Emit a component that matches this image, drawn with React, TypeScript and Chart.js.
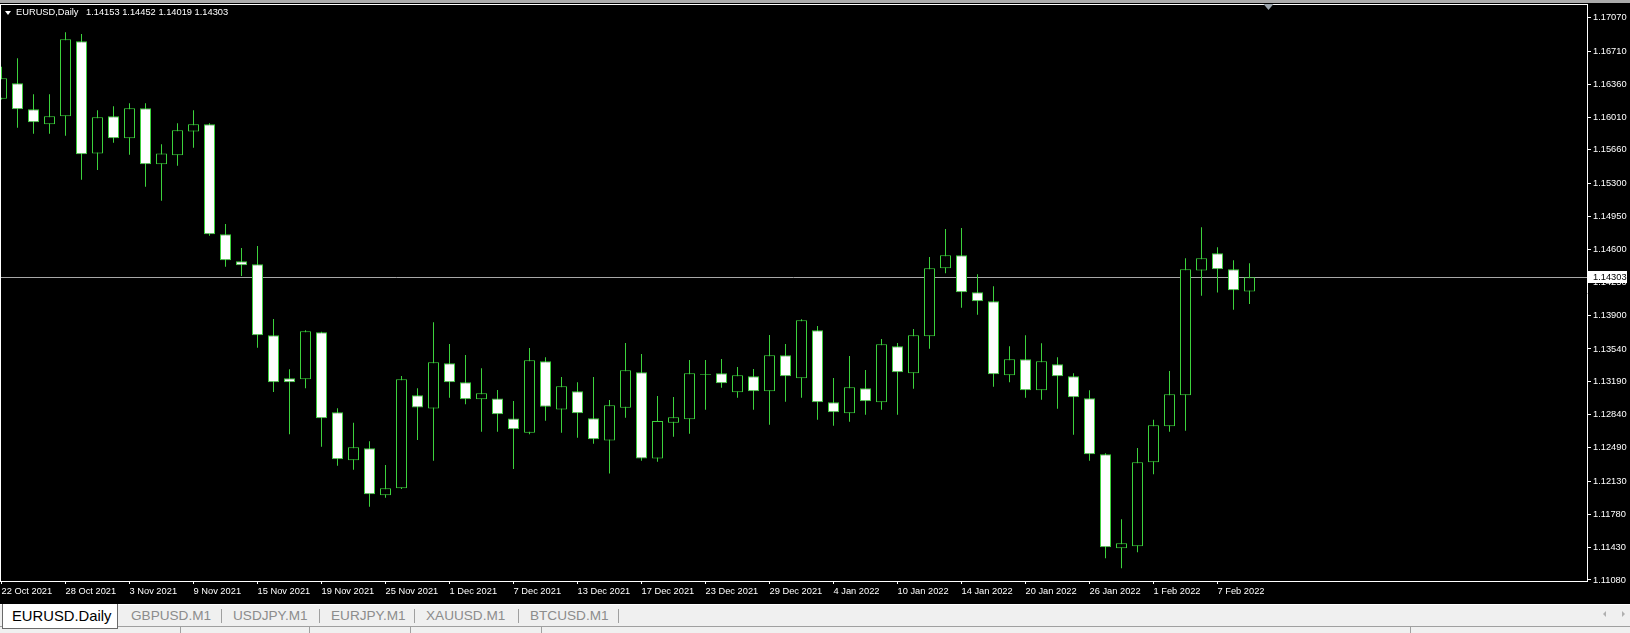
import React, { useEffect, useRef } from 'react';
import { Chart, registerables } from 'chart.js';

Chart.register(...registerables);

// ---------- data ----------
const dates = [
  '22 Oct 2021', '25 Oct 2021', '26 Oct 2021', '27 Oct 2021', '28 Oct 2021', '29 Oct 2021',
  '1 Nov 2021', '2 Nov 2021', '3 Nov 2021', '4 Nov 2021', '5 Nov 2021', '8 Nov 2021', '9 Nov 2021',
  '10 Nov 2021', '11 Nov 2021', '12 Nov 2021', '15 Nov 2021', '16 Nov 2021', '17 Nov 2021',
  '18 Nov 2021', '19 Nov 2021', '22 Nov 2021', '23 Nov 2021', '24 Nov 2021', '25 Nov 2021',
  '26 Nov 2021', '29 Nov 2021', '30 Nov 2021',
  '1 Dec 2021', '2 Dec 2021', '3 Dec 2021', '6 Dec 2021', '7 Dec 2021', '8 Dec 2021', '9 Dec 2021',
  '10 Dec 2021', '13 Dec 2021', '14 Dec 2021', '15 Dec 2021', '16 Dec 2021', '17 Dec 2021',
  '20 Dec 2021', '21 Dec 2021', '22 Dec 2021', '23 Dec 2021', '24 Dec 2021', '27 Dec 2021',
  '28 Dec 2021', '29 Dec 2021', '30 Dec 2021', '31 Dec 2021',
  '3 Jan 2022', '4 Jan 2022', '5 Jan 2022', '6 Jan 2022', '7 Jan 2022', '10 Jan 2022', '11 Jan 2022',
  '12 Jan 2022', '13 Jan 2022', '14 Jan 2022', '17 Jan 2022', '18 Jan 2022', '19 Jan 2022',
  '20 Jan 2022', '21 Jan 2022', '24 Jan 2022', '25 Jan 2022', '26 Jan 2022', '27 Jan 2022',
  '28 Jan 2022', '31 Jan 2022',
  '1 Feb 2022', '2 Feb 2022', '3 Feb 2022', '4 Feb 2022', '7 Feb 2022', '8 Feb 2022', '9 Feb 2022',
];

const opens = [
  1.16205, 1.16369, 1.16092, 1.15932, 1.16018, 1.16816, 1.15621, 1.16018, 1.15783, 1.16103,
  1.15506, 1.15602, 1.15856, 1.15932, 1.14761, 1.14473, 1.14441, 1.13685, 1.13227, 1.13217,
  1.13717, 1.12865, 1.12354, 1.12482, 1.11981, 1.12056, 1.13046, 1.12906, 1.13387, 1.13185,
  1.13004, 1.13012, 1.12799, 1.12648, 1.13408, 1.12895, 1.13089, 1.12801, 1.12565, 1.12914,
  1.13291, 1.12373, 1.12754, 1.12791, 1.13264, 1.13281, 1.13078, 1.13249, 1.13089, 1.13472,
  1.13227, 1.13739, 1.12972, 1.12855, 1.13121, 1.12972, 1.13568, 1.13281, 1.13675, 1.14399,
  1.14537, 1.14143, 1.14047, 1.13259, 1.13430, 1.13099, 1.13376, 1.13249, 1.13014, 1.12418,
  1.11417, 1.11438, 1.12333, 1.12716, 1.13046, 1.14375, 1.14559, 1.14388, 1.14153,
];

const highs = [
  1.16546, 1.16635, 1.16252, 1.16252, 1.16912, 1.16894, 1.16082, 1.16124, 1.16156, 1.16156,
  1.15720, 1.15943, 1.16083, 1.15943, 1.14871, 1.14615, 1.14636, 1.13859, 1.13323, 1.13739,
  1.13722, 1.12908, 1.12754, 1.12556, 1.12304, 1.13252, 1.13121, 1.13824, 1.13593, 1.13475,
  1.13334, 1.13103, 1.12986, 1.13550, 1.13451, 1.13241, 1.13186, 1.13241, 1.12996, 1.13603,
  1.13486, 1.13039, 1.13028, 1.13422, 1.13422, 1.13433, 1.13348, 1.13326, 1.13688, 1.13593,
  1.13856, 1.13784, 1.13230, 1.13465, 1.13316, 1.13646, 1.13603, 1.13752, 1.14519, 1.14817,
  1.14828, 1.14335, 1.14207, 1.13568, 1.13685, 1.13600, 1.13451, 1.13281, 1.13099, 1.12429,
  1.11726, 1.12485, 1.12786, 1.13305, 1.14505, 1.14837, 1.14624, 1.14484, 1.14452,
];

const lows = [
  1.16197, 1.15896, 1.15832, 1.15832, 1.15811, 1.15342, 1.15446, 1.15736, 1.15608, 1.15268,
  1.15119, 1.15491, 1.15683, 1.14746, 1.14416, 1.14317, 1.13553, 1.13081, 1.12631, 1.13121,
  1.12499, 1.12297, 1.12254, 1.11860, 1.11956, 1.12048, 1.12570, 1.12350, 1.13021, 1.12950,
  1.12659, 1.12659, 1.12261, 1.12631, 1.12776, 1.12648, 1.12595, 1.12531, 1.12213, 1.12808,
  1.12350, 1.12339, 1.12605, 1.12637, 1.12893, 1.13127, 1.13021, 1.12893, 1.12733, 1.12978,
  1.13021, 1.12786, 1.12722, 1.12765, 1.12840, 1.12893, 1.12840, 1.13116, 1.13542, 1.14346,
  1.13979, 1.13905, 1.13138, 1.13185, 1.13021, 1.12999, 1.12903, 1.12627, 1.12350, 1.11310,
  1.11204, 1.11374, 1.12205, 1.12659, 1.12669, 1.14107, 1.14141, 1.13958, 1.14019,
];

const closes = [
  1.16422, 1.16092, 1.15954, 1.16018, 1.16838, 1.15613, 1.16007, 1.15783, 1.16103, 1.15506,
  1.15621, 1.15868, 1.15932, 1.14761, 1.14484, 1.14431, 1.13685, 1.13185, 1.13185, 1.13728,
  1.12801, 1.12365, 1.12492, 1.11992, 1.12056, 1.13217, 1.12916, 1.13398, 1.13185, 1.13004,
  1.13068, 1.12844, 1.12684, 1.13419, 1.12925, 1.13142, 1.12855, 1.12578, 1.12940, 1.13312,
  1.12373, 1.12772, 1.12812, 1.13281, 1.13274, 1.13174, 1.13259, 1.13089, 1.13472, 1.13249,
  1.13845, 1.12972, 1.12865, 1.13132, 1.12982, 1.13589, 1.13291, 1.13685, 1.14399, 1.14537,
  1.14143, 1.14047, 1.13270, 1.13430, 1.13099, 1.13408, 1.13249, 1.13025, 1.12418, 1.11428,
  1.11470, 1.12333, 1.12727, 1.13057, 1.14388, 1.14505, 1.14388, 1.14164, 1.14303,
];

const priceTicks = [
  1.17070, 1.16710, 1.16360, 1.16010, 1.15660, 1.15300, 1.14950, 1.14600, 1.14250,
  1.13900, 1.13540, 1.13190, 1.12840, 1.12490, 1.12130, 1.11780, 1.11430, 1.11080,
];

const dateTickStep = 4;
const symbolTitle = 'EURUSD,Daily';
const tabNames = ['EURUSD.Daily', 'GBPUSD.M1', 'USDJPY.M1', 'EURJPY.M1', 'XAUUSD.M1', 'BTCUSD.M1'];

// ---------- view range / styles ----------
const Y_MIN = 1.110687;
const Y_MAX = 1.172029;
const X_MIN = -0.09375;
const X_MAX = 99.09375;

const GREEN = '#3cd23c';
const BULL_FILL = '#000000';
const BEAR_FILL = '#ffffff';
const BID_COLOR = '#a8a8a8';
const FONT_FAMILY = "'Liberation Sans', Arial, sans-serif";
const AXIS_FONT_SIZE = 9.3;

const mt4Plugin = {
  id: 'mt4chrome',
  beforeDraw(chart: any) {
    const { ctx, width, height } = chart;
    ctx.save();
    ctx.fillStyle = '#000';
    ctx.fillRect(0, 0, width, height);
    ctx.fillStyle = '#ababab';
    ctx.fillRect(0, 0, width, 3);
    ctx.restore();
  },
  beforeDatasetsDraw(chart: any) {
    const { ctx, chartArea, scales } = chart;
    const last = closes[closes.length - 1];
    const y = Math.floor(scales.y.getPixelForValue(last)) + 0.5;
    ctx.save();
    ctx.strokeStyle = BID_COLOR;
    ctx.lineWidth = 1;
    ctx.beginPath();
    ctx.moveTo(chartArea.left, y);
    ctx.lineTo(chartArea.right, y);
    ctx.stroke();
    ctx.restore();
  },
  afterDraw(chart: any) {
    const { ctx, chartArea, scales } = chart;
    ctx.save();
    // frame: top and left
    ctx.fillStyle = '#ffffff';
    ctx.fillRect(0, chartArea.top - 1, chartArea.right + 1, 1);
    ctx.fillRect(0, chartArea.top - 1, 1, chartArea.bottom - chartArea.top + 2);
    // bid price label
    const last = closes[closes.length - 1];
    const yRow = Math.floor(scales.y.getPixelForValue(last));
    ctx.fillStyle = '#ffffff';
    ctx.fillRect(chartArea.right + 1, yRow - 6, 39, 12);
    ctx.fillStyle = '#000000';
    ctx.font = `${AXIS_FONT_SIZE}px ${FONT_FAMILY}`;
    ctx.textBaseline = 'middle';
    ctx.textAlign = 'left';
    ctx.fillText(last.toFixed(5), chartArea.right + 6, yRow + 0.5);
    // chart shift marker
    ctx.fillStyle = '#9aa3ab';
    ctx.beginPath();
    ctx.moveTo(1263.5, chartArea.top - 1);
    ctx.lineTo(1273.5, chartArea.top - 1);
    ctx.lineTo(1268.5, chartArea.top + 5);
    ctx.closePath();
    ctx.fill();
    ctx.restore();
  },
};

export default function App() {
  const ref = useRef<HTMLCanvasElement>(null);

  useEffect(() => {
    document.body.style.margin = '0';
    const canvas = ref.current;
    if (!canvas) return;
    const idx = dates.map((_, i) => i);
    const bodyData = idx.map((i) => ({ x: i, y: [opens[i], closes[i]] }));
    const wickData = idx.map((i) => ({ x: i, y: [lows[i], highs[i]] }));
    const fills = idx.map((i) => (closes[i] >= opens[i] ? BULL_FILL : BEAR_FILL));
    const tickIdx = idx.filter((i) => i % dateTickStep === 0);
    const font = { family: FONT_FAMILY, size: AXIS_FONT_SIZE };

    const chart = new Chart(canvas, {
      type: 'bar',
      data: {
        datasets: [
          {
            label: 'body',
            data: bodyData as any,
            backgroundColor: fills,
            borderColor: GREEN,
            borderWidth: 1,
            borderSkipped: false,
            barThickness: 11,
            grouped: false,
            inflateAmount: 0,
          } as any,
          {
            label: 'wick',
            data: wickData as any,
            backgroundColor: GREEN,
            borderWidth: 0,
            barThickness: 1,
            grouped: false,
            inflateAmount: 0,
          } as any,
        ],
      },
      options: {
        animation: false,
        responsive: false,
        maintainAspectRatio: false,
        devicePixelRatio: 1,
        events: [],
        layout: { padding: { top: 5, left: 0, right: 0, bottom: 0 } },
        plugins: {
          legend: { display: false },
          tooltip: { enabled: false },
          title: { display: false },
        },
        scales: {
          x: {
            type: 'linear',
            min: X_MIN,
            max: X_MAX,
            offset: false,
            afterBuildTicks: (s: any) => {
              s.ticks = tickIdx.map((v) => ({ value: v }));
            },
            afterFit: (s: any) => {
              s.height = 23;
              s.paddingLeft = 0;
              s.paddingRight = 0;
            },
            grid: {
              display: true,
              drawOnChartArea: false,
              drawTicks: true,
              tickLength: 3,
              color: '#ffffff',
              offset: false,
            },
            border: { display: true, color: '#ffffff', width: 1 },
            ticks: {
              autoSkip: false,
              maxRotation: 0,
              minRotation: 0,
              align: 'start',
              padding: 2,
              color: '#ffffff',
              font,
              callback: (v: any) => dates[Math.round(Number(v))] ?? '',
            },
          } as any,
          y: {
            type: 'linear',
            position: 'right',
            min: Y_MIN,
            max: Y_MAX,
            beginAtZero: false,
            afterBuildTicks: (s: any) => {
              s.ticks = priceTicks.map((v) => ({ value: v }));
            },
            afterFit: (s: any) => {
              s.width = 43;
              s.paddingTop = 0;
              s.paddingBottom = 0;
            },
            grid: {
              display: true,
              drawOnChartArea: false,
              drawTicks: true,
              tickLength: 4,
              color: '#ffffff',
            },
            border: { display: true, color: '#ffffff', width: 1 },
            ticks: {
              autoSkip: false,
              padding: 2,
              crossAlign: 'near',
              color: '#ffffff',
              font,
              callback: (v: any) => Number(v).toFixed(5),
            },
          } as any,
        },
      },
      plugins: [mt4Plugin],
    });
    return () => chart.destroy();
  }, []);

  const n = closes.length - 1;
  const ohlcText = [opens[n], highs[n], lows[n], closes[n]].map((v) => v.toFixed(5)).join(' ');
  const headFont = `${AXIS_FONT_SIZE}px/11px ${FONT_FAMILY}`;
  const tabLefts = [12, 131, 233, 331, 426, 530];
  const sepLefts = [221, 319, 414, 518, 618];
  const statusSeps = [180, 309, 410, 541, 1410];

  return (
    <div
      style={{
        position: 'fixed',
        left: 0,
        top: 0,
        width: 1630,
        height: 633,
        background: '#f0f0f0',
        overflow: 'hidden',
      }}
    >
      <canvas
        ref={ref}
        width={1630}
        height={604}
        style={{ position: 'absolute', left: 0, top: 0, width: 1630, height: 604 }}
      />
      {/* header */}
      <div
        style={{
          position: 'absolute',
          left: 5,
          top: 11,
          width: 0,
          height: 0,
          borderLeft: '3px solid transparent',
          borderRight: '3px solid transparent',
          borderTop: '4px solid #ffffff',
        }}
      />
      <div style={{ position: 'absolute', left: 16, top: 7, font: headFont, color: '#fff', whiteSpace: 'pre' }}>
        {symbolTitle}
      </div>
      <div style={{ position: 'absolute', left: 86, top: 7, font: headFont, color: '#fff', whiteSpace: 'pre' }}>
        {ohlcText}
      </div>

      {/* tab bar */}
      <div style={{ position: 'absolute', left: 0, top: 604, width: 1630, height: 1, background: '#ffffff' }} />
      <div style={{ position: 'absolute', left: 0, top: 626, width: 1630, height: 1, background: '#a0a0a0' }} />
      {statusSeps.map((x) => (
        <div key={'ss' + x} style={{ position: 'absolute', left: x, top: 627, width: 1, height: 6, background: '#a0a0a0' }} />
      ))}
      <div
        style={{
          position: 'absolute',
          left: 2,
          top: 604,
          width: 116,
          height: 25,
          boxSizing: 'border-box',
          background: '#ffffff',
          borderLeft: '1px solid #6a6a6a',
          borderRight: '1px solid #6a6a6a',
          borderBottom: '1px solid #6a6a6a',
        }}
      />
      {tabNames.map((t, i) => (
        <div
          key={t}
          style={{
            position: 'absolute',
            left: tabLefts[i],
            top: 608,
            font: `${i === 0 ? 14.8 : 13.6}px/16px ${FONT_FAMILY}`,
            color: i === 0 ? '#000000' : '#8c8c8c',
            whiteSpace: 'pre',
          }}
        >
          {t}
        </div>
      ))}
      {sepLefts.map((x) => (
        <div key={'sp' + x} style={{ position: 'absolute', left: x, top: 609, width: 1, height: 14, background: '#a0a0a0' }} />
      ))}
      <div
        style={{
          position: 'absolute',
          left: 1603,
          top: 611,
          width: 0,
          height: 0,
          borderTop: '3px solid transparent',
          borderBottom: '3px solid transparent',
          borderRight: '3px solid #b0b0b0',
        }}
      />
      <div
        style={{
          position: 'absolute',
          left: 1622,
          top: 611,
          width: 0,
          height: 0,
          borderTop: '3px solid transparent',
          borderBottom: '3px solid transparent',
          borderLeft: '3px solid #b0b0b0',
        }}
      />
    </div>
  );
}
